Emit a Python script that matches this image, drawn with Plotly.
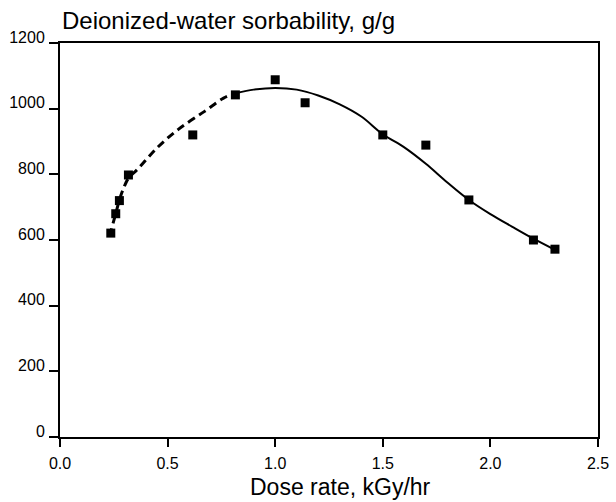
import plotly.graph_objects as go

# Measured data points
dose_rate = [0.236, 0.259, 0.276, 0.318, 0.617, 0.815, 1.0, 1.139, 1.50, 1.70, 1.90, 2.20, 2.30]
sorbability = [621, 680, 720, 798, 920, 1042, 1088, 1018, 920, 889, 722, 600, 572]

# Dashed fitted curve (low dose-rate region)
dash_x = [0.23, 0.259, 0.276, 0.30, 0.32, 0.36, 0.45, 0.55, 0.67, 0.76, 0.82]
dash_y = [612, 680, 722, 765, 790, 815, 880, 937, 991, 1032, 1048]

# Solid fitted curve
solid_x = [0.82, 0.9, 1.0, 1.1, 1.2, 1.3, 1.4, 1.5, 1.6, 1.7, 1.8, 1.9, 2.0, 2.1, 2.2, 2.3]
solid_y = [1048, 1058, 1063, 1058, 1040, 1013, 976, 922, 882, 832, 775, 722, 679, 641, 604, 570]

x_ticks = [0.0, 0.5, 1.0, 1.5, 2.0, 2.5]
x_tick_labels = ["0.0", "0.5", "1.0", "1.5", "2.0", "2.5"]
y_ticks = [0, 200, 400, 600, 800, 1000, 1200]

fig = go.Figure()
fig.add_trace(go.Scatter(x=dash_x, y=dash_y, mode="lines",
                         line=dict(color="black", width=3, dash="8px,5px", shape="spline"),
                         showlegend=False, hoverinfo="skip"))
fig.add_trace(go.Scatter(x=solid_x, y=solid_y, mode="lines",
                         line=dict(color="black", width=2, shape="spline", smoothing=1.0),
                         showlegend=False, hoverinfo="skip"))
fig.add_trace(go.Scatter(x=dose_rate, y=sorbability, mode="markers",
                         marker=dict(symbol="square", size=9, color="black"),
                         showlegend=False))

font_family = "Liberation Sans, Arial, sans-serif"
fig.update_layout(
    width=616, height=502,
    margin=dict(l=60, r=18, t=43, b=65),
    paper_bgcolor="white", plot_bgcolor="white",
    font=dict(family=font_family, color="black", size=16),
    xaxis=dict(range=[0, 2.5], tickvals=x_ticks, ticktext=x_tick_labels,
               showgrid=False, zeroline=False, showline=True, linecolor="black",
               linewidth=2, mirror=True, ticks="outside", ticklen=8, tickwidth=2,
               tickcolor="black", tickfont=dict(size=16), ticklabelstandoff=3,
               automargin=False),
    yaxis=dict(range=[0, 1200], tickvals=y_ticks,
               showgrid=False, zeroline=False, showline=True, linecolor="black",
               linewidth=2, mirror=True, ticks="outside", ticklen=9, tickwidth=1.5,
               tickcolor="black", tickfont=dict(size=16), ticklabelshift=-6,
               ticklabelstandoff=1, automargin=False),
    annotations=[
        dict(text="Deionized-water sorbability, g/g", xref="paper", yref="paper",
             x=0.0, y=1.0, yshift=7, xanchor="left", yanchor="bottom",
             showarrow=False, font=dict(size=24)),
        dict(text="Dose rate, kGy/hr", xref="paper", yref="paper",
             x=0.522, y=0.0, yshift=-35, xanchor="center", yanchor="top",
             showarrow=False, font=dict(size=23)),
    ],
)

fig.write_html("out.html")
